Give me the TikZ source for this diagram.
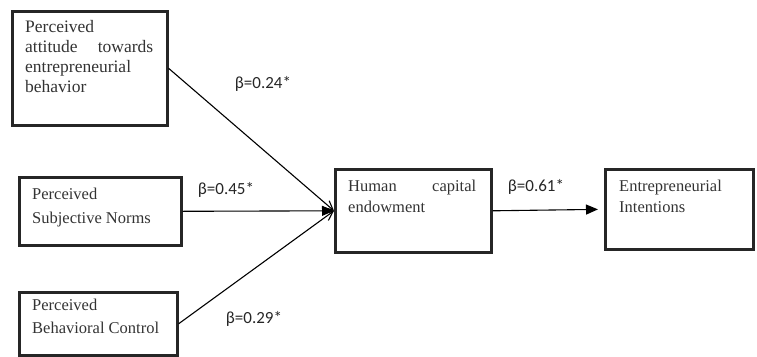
\documentclass[tikz,border=0pt]{standalone}
\usepackage{fontspec}
\setmainfont{Liberation Serif}
\newfontfamily\labfont{Carlito}
\usetikzlibrary{arrows.meta}
\begin{document}
\begin{tikzpicture}[x=1pt,y=-1pt,
  boxnode/.style={draw=black!85, line width=2.6pt, inner sep=0pt, anchor=north west},
  boxtext/.style={anchor=north west, inner sep=0pt, align=left, text=black!80},
  conn/.style={line width=1.1pt, -{Triangle[length=12pt,width=10pt]}},
  diag/.style={line width=1.1pt, -{Straight Barb[length=9pt,width=9pt,line width=1.1pt]}},
  betalabel/.style={font=\labfont\fontsize{17}{20}\selectfont, text=black!85}]
\useasboundingbox (0,0) rectangle (757,356);
% boxes
\node[boxnode, minimum width=155pt, minimum height=114pt] (att) at (11,10) {};
\node[boxnode, minimum width=162pt, minimum height=68pt] (sub) at (18,176) {};
\node[boxnode, minimum width=158pt, minimum height=63pt] (beh) at (18,291) {};
\node[boxnode, minimum width=156pt, minimum height=83pt] (hc) at (334,168) {};
\node[boxnode, minimum width=148pt, minimum height=80pt] (ei) at (604,168) {};
% texts
\node[boxtext, font=\fontsize{17.5}{20}\selectfont] (attT) at (25,20)
  {Perceived\\ \hbox to 128pt{attitude\hfill towards}\\ entrepreneurial\\ behavior};
\node[boxtext, font=\fontsize{16.5}{24}\selectfont] (subT) at (32,188)
  {Perceived\\ Subjective Norms};
\node[boxtext, font=\fontsize{16.5}{23}\selectfont] (behT) at (32,299)
  {Perceived\\ Behavioral Control};
\node[boxtext, font=\fontsize{16.5}{21}\selectfont] (hcT) at (348,180)
  {\hbox to 128pt{Human\hfill capital}\\ endowment};
\node[boxtext, font=\fontsize{16.5}{21}\selectfont] (eiT) at (619,180)
  {Entrepreneurial\\ Intentions};
% connectors
\draw[diag] (att.east) -- (hc.west);
\draw[conn] (sub.east) -- (hc.west);
\draw[diag] (beh.east) -- (hc.west);
\draw[conn, shorten >=6pt] (hc.east) -- (ei.west);
% labels
\node[betalabel] (l1) at (263,84) {β=0.24*};
\node[betalabel] (l2) at (226,190) {β=0.45*};
\node[betalabel] (l3) at (254,319) {β=0.29*};
\node[betalabel] (l4) at (536,187) {β=0.61*};
\end{tikzpicture}
\end{document}
